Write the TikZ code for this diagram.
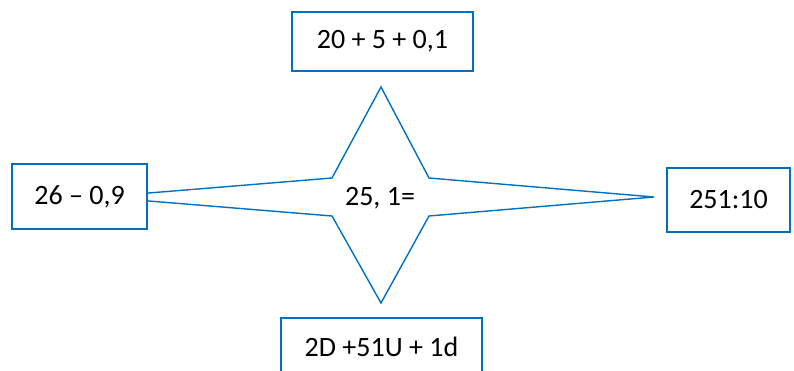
\documentclass[tikz,border=0pt]{standalone}
\usepackage{fontspec}
\setmainfont{Carlito}
\definecolor{boxblue}{RGB}{0,112,192}
\tikzset{
  numbox/.style={draw=boxblue, line width=1.8pt, fill=white, inner sep=0pt},
  starline/.style={draw=boxblue, line width=1.4pt, line join=miter}
}

\begin{document}
\begin{tikzpicture}[x=1pt, y=-1pt, font=\fontsize{28}{34}\selectfont]
  \useasboundingbox (0,0) rectangle (794,371);
  % four-pointed star round the result
  \draw[starline] (381,87) -- (429,178) -- (654,197) -- (429,216) -- (381,303)
    -- (332,216) -- (100,197) -- (332,178) -- cycle;
  \node (res) at (380,198) {25, 1=};
  % the four ways to write it
  \node[numbox, minimum width=181pt, minimum height=59pt] (top) at (382.5,41.5) {20 + 5 + 0,1};
  \node[numbox, minimum width=135pt, minimum height=65pt] (left) at (79.5,196.5) {26 – 0,9};
  \node[numbox, minimum width=123pt, minimum height=64pt] (right) at (728.5,200) {251:10};
  \node[numbox, minimum width=201pt, minimum height=58pt] (bottom) at (381.5,347) {2D +51U + 1d};
\end{tikzpicture}
\end{document}
